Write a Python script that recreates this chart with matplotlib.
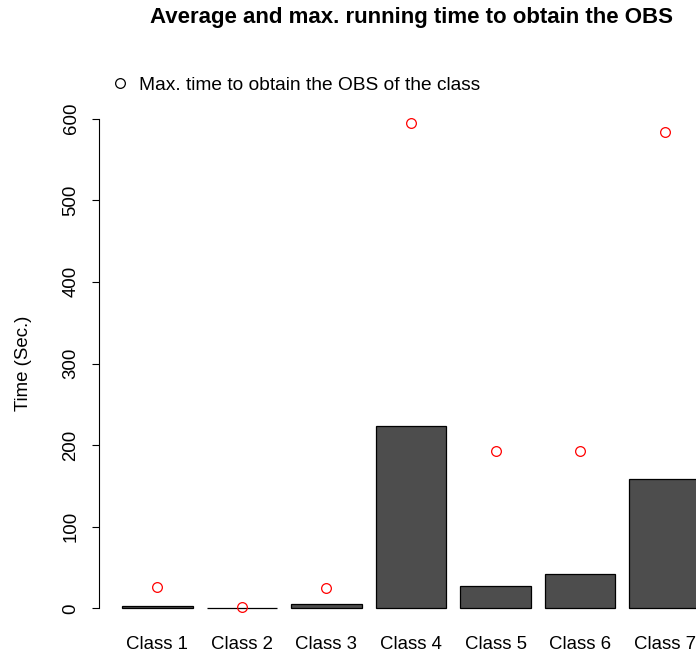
import numpy as np
import matplotlib.pyplot as plt
from matplotlib.lines import Line2D

plt.rcParams['font.family'] = ['Liberation Sans', 'DejaVu Sans']

classes = ['Class 1', 'Class 2', 'Class 3', 'Class 4', 'Class 5', 'Class 6', 'Class 7']
avg_time = [2.5, 0.5, 5, 224, 28, 42, 158]
max_time = [26, 1.5, 25, 595, 193, 193, 583]

# bar layout as in a base barplot: width 1, space 0.2
width = 1.0
space = 0.2
centers = np.arange(len(classes)) * (width + space) + space + width / 2

fig = plt.figure(figsize=(6.96, 6.56), dpi=100)
W, H = 696, 656
fs = 13.4
# plot region runs past the right edge of the figure
ax = fig.add_axes([99 / W, (H - 628) / H, 624 / W, 529 / H])

ax.bar(centers, avg_time, width=width, color='#4d4d4d', edgecolor='black', linewidth=0.9)
ax.plot(centers, max_time, linestyle='none', marker='o', markersize=7,
        markerfacecolor='none', markeredgecolor='red', markeredgewidth=0.9)

span = centers[-1] + width / 2 - space
ax.set_xlim(space - 0.04 * span, centers[-1] + width / 2 + 0.04 * span)
ax.set_ylim(-24, 624)

for s in ['top', 'right', 'bottom']:
    ax.spines[s].set_visible(False)
ax.spines['left'].set_bounds(0, 600)
ax.spines['left'].set_linewidth(0.8)

ax.set_yticks(np.arange(0, 601, 100))
ax.tick_params(axis='y', direction='out', length=5, width=0.8, labelsize=fs, pad=9)
for lbl in ax.get_yticklabels():
    lbl.set_rotation(90)
    lbl.set_va('center')
ax.set_xticks(centers)
ax.set_xticklabels(classes, fontsize=fs)
ax.tick_params(axis='x', length=0, pad=6)

ax.set_ylabel('Time (Sec.)', fontsize=fs, labelpad=22)

fig.text(411 / W, 1 - 17 / H, 'Average and max. running time to obtain the OBS',
         ha='center', va='center', fontsize=16, fontweight='bold')

handle = Line2D([], [], linestyle='none', marker='o', markersize=7,
                markerfacecolor='none', markeredgecolor='black', markeredgewidth=0.9)
fig.legend([handle], ['Max. time to obtain the OBS of the class'], loc='center left',
           bbox_to_anchor=(103 / W, 1 - 85 / H), frameon=False, fontsize=13.8,
           handlelength=1.0, handletextpad=0.5, borderaxespad=0)

fig.savefig('out.png', dpi=100)
